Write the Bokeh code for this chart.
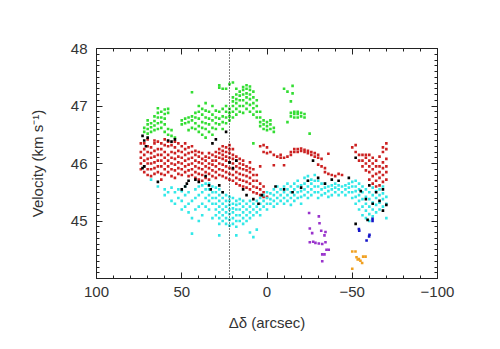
from bokeh.plotting import figure
from bokeh.models import Range1d, LinearAxis, SingleIntervalTicker, Span
from bokeh.embed import file_html
from bokeh.resources import INLINE

# ---------------- data ----------------
green_cols = [72, 70, 68, 66, 64, 62, 60, 58, 56, 54, 50, 48, 46, 44, 42, 40, 38, 36, 34, 32, 30, 28, 26, 24, 22,
              20, 18, 16, 14, 12, 10, 8, 6, 4, 2, 0, -2, -4, -10, -12, -14, -15, -16, -18, -20, -22, -25]
green_vals = [
    [46.55, 46.62], [46.52, 46.6, 46.68, 46.75], [46.55, 46.63, 46.7], [46.58, 46.66, 46.74, 46.82],
    [46.6, 46.7, 46.8, 46.88, 46.96], [46.62, 46.72, 46.8, 46.9], [46.55, 46.68, 46.78, 46.86, 46.94],
    [46.5, 46.6, 46.88, 46.95], [46.48, 46.58], [46.45], [46.68, 46.75], [46.7, 46.78],
    [46.58, 46.72, 46.8], [46.62, 46.75, 46.82, 47.24], [46.6, 46.7, 46.8, 46.88],
    [46.55, 46.65, 46.78, 46.9, 47.0], [46.5, 46.62, 46.72, 46.85, 46.95],
    [46.45, 46.6, 46.7, 46.8, 46.92, 47.05], [46.55, 46.68, 46.78, 46.9],
    [46.5, 46.62, 46.75, 46.85, 47.0], [46.6, 46.7, 46.8, 46.92], [46.68, 46.78, 46.9, 47.32, 47.36],
    [46.6, 46.72, 46.82, 46.95, 47.3], [46.7, 46.8, 46.9, 47.0, 47.3], [46.75, 46.82, 46.88, 46.95, 47.38],
    [46.8, 46.9, 47.0, 47.08, 47.15, 47.41], [46.85, 46.95, 47.05, 47.12, 47.2, 47.3],
    [46.9, 47.0, 47.1, 47.18, 47.25], [46.88, 47.0, 47.1, 47.2, 47.28, 47.33],
    [46.95, 47.05, 47.15, 47.22, 47.3, 47.36], [46.9, 47.02, 47.12, 47.2, 47.28, 47.34],
    [46.35, 46.85, 46.96, 47.05, 47.15, 47.25], [46.8, 46.9, 47.0, 47.1], [46.65, 46.72, 46.8, 46.9],
    [46.6, 46.68, 46.75], [46.58, 46.65, 46.72], [46.6, 46.68, 46.75], [46.55, 46.62],
    [47.3], [47.25, 46.72], [47.08, 46.82, 46.88], [47.35, 47.22], [46.8, 46.86, 46.9],
    [46.8, 46.86, 46.9], [46.82, 46.88], [46.8, 46.86], [46.52],
]

red_cols = [74, 72, 70, 68, 66, 64, 62, 60, 58, 56, 54, 52, 50, 48, 46, 44, 42, 40, 38, 36, 34, 32, 30, 28, 26,
            24, 22, 20, 18, 16, 14, 12, 10, 8, 6, 4, 2, 0, -2, -4, -6, -8, -10, -12, -14, -16, -18, -20, -22,
            -24, -26, -28, -30, -32, -34, -36, -38, -40, -42, -44, -50, -52, -54, -56, -58, -60, -62, -64,
            -66, -68, -70]
red_vals = [
    [45.9, 46.0, 46.1, 46.2, 46.35], [45.85, 45.95, 46.05, 46.15, 46.25, 46.35],
    [45.8, 45.9, 46.0, 46.08, 46.2, 46.3, 46.42], [45.78, 45.9, 46.0, 46.1, 46.18, 46.28],
    [45.82, 45.92, 46.02, 46.12, 46.22, 46.35, 46.4], [45.85, 45.95, 46.05, 46.15, 46.25, 46.38],
    [45.72, 45.82, 45.95, 46.05, 46.15, 46.25, 46.35], [45.8, 45.9, 46.0, 46.1, 46.2, 46.32, 46.42],
    [45.85, 45.95, 46.05, 46.15, 46.3, 46.38], [45.78, 45.9, 46.0, 46.1, 46.2, 46.32],
    [45.75, 45.88, 45.98, 46.08, 46.18, 46.28, 46.38], [45.82, 45.92, 46.02, 46.12, 46.22, 46.35],
    [45.8, 45.9, 46.0, 46.1, 46.2, 46.3], [45.85, 45.95, 46.05, 46.15, 46.25, 46.35],
    [45.78, 45.88, 45.98, 46.08, 46.18, 46.28], [45.8, 45.9, 46.0, 46.1, 46.2, 46.3],
    [45.75, 45.85, 45.95, 46.05, 46.15, 46.22], [45.72, 45.82, 45.92, 46.02, 46.12, 46.2],
    [45.7, 45.8, 45.9, 46.0, 46.08, 46.18], [45.75, 45.85, 45.95, 46.05, 46.12],
    [45.72, 45.82, 45.92, 46.0, 46.1, 46.18], [45.78, 45.88, 45.98, 46.05, 46.15],
    [45.75, 45.85, 45.95, 46.05, 46.12, 46.2], [45.8, 45.9, 46.0, 46.1, 46.18, 46.25],
    [45.78, 45.88, 45.98, 46.08, 46.15, 46.22, 46.3], [45.75, 45.85, 45.95, 46.05, 46.12, 46.2, 46.28],
    [45.72, 45.82, 45.92, 46.02, 46.1, 46.18, 46.25, 46.32], [45.7, 45.8, 45.9, 46.0, 46.08, 46.15, 46.25],
    [45.65, 45.75, 45.85, 45.95, 46.05, 46.12], [45.62, 45.72, 45.82, 45.92, 46.0, 46.08],
    [45.6, 45.7, 45.8, 45.9, 45.98, 46.05], [45.58, 45.68, 45.78, 45.88, 45.95],
    [45.55, 45.65, 45.75, 45.85, 45.92, 46.02], [45.5, 45.6, 45.7, 45.8, 45.9],
    [45.48, 45.58, 45.7, 45.8], [45.45, 45.55, 45.65, 45.95, 46.3], [45.42, 45.5, 45.6, 46.2, 46.32],
    [45.42, 46.18, 46.28], [46.2], [45.97, 46.15], [46.12], [46.1, 46.15], [45.97, 46.1], [46.12],
    [46.15, 46.2], [46.2, 46.25], [46.2, 46.25], [46.22, 46.26], [46.2, 46.24], [46.18, 46.22],
    [46.15, 46.2], [46.12, 46.18], [45.98, 46.1, 46.15], [45.95, 46.08], [45.85, 45.92],
    [45.82, 46.17], [45.8], [45.78], [45.82], [45.8], [46.28], [46.2, 46.32], [46.05, 46.15],
    [45.95, 46.05, 46.15], [45.88, 46.0, 46.1, 46.15], [45.72, 45.85, 45.95, 46.05, 46.15],
    [45.65, 45.78, 45.9, 46.0, 46.1], [45.6, 45.7, 45.82, 45.95, 46.05],
    [45.62, 45.75, 45.85, 45.95, 46.12], [45.68, 45.8, 45.92, 46.02, 46.2, 46.28],
    [45.72, 45.85, 45.95, 46.08, 46.25, 46.35],
]

cyan_cols = [68, 64, 60, 58, 56, 54, 52, 50, 48, 46, 44, 42, 40, 38, 36, 34, 32, 30, 28, 26, 24, 22, 20, 18,
             16, 14, 12, 10, 8, 6, 4, 2, 0, -2, -4, -6, -8, -10, -12, -14, -16, -18, -20, -22, -24, -26, -28,
             -30, -32, -34, -36, -38, -40, -42, -44, -46, -48, -50, -52, -54, -56, -58, -60, -62, -64, -66,
             -68, -70]
cyan_vals = [
    [45.72], [45.6], [45.45, 45.55], [45.5], [45.35, 45.58], [45.3, 45.5], [45.4, 45.55],
    [45.2, 45.35, 45.52], [45.25, 45.45, 45.6], [45.15, 45.3, 45.5], [44.78, 45.05, 45.35],
    [45.2, 45.4, 45.55], [45.0, 45.25, 45.45, 45.6], [45.1, 45.3, 45.5, 45.62],
    [45.25, 45.4, 45.55, 45.65], [45.2, 45.35, 45.45, 45.55, 45.65], [45.05, 45.3, 45.4, 45.5, 45.6],
    [45.1, 45.2, 45.3, 45.4, 45.5, 45.58], [44.75, 44.95, 45.05, 45.15, 45.25, 45.35, 45.45, 45.55],
    [45.0, 45.1, 45.2, 45.3, 45.4, 45.5], [44.95, 45.05, 45.15, 45.25, 45.35, 45.45],
    [44.92, 45.02, 45.12, 45.2, 45.28, 45.35, 45.42], [44.95, 45.05, 45.15, 45.22, 45.3, 45.4],
    [44.75, 44.9, 45.0, 45.1, 45.2, 45.28, 45.35], [45.0, 45.1, 45.2, 45.3, 45.38],
    [44.95, 45.05, 45.15, 45.25, 45.35], [45.0, 45.1, 45.2, 45.3], [44.8, 45.05, 45.15, 45.25, 45.35],
    [44.72, 45.1, 45.2, 45.3], [44.85, 45.15, 45.25, 45.35], [45.1, 45.2, 45.3, 45.4],
    [45.25, 45.35, 45.45], [45.2, 45.3, 45.4, 45.5], [45.3, 45.38, 45.48], [45.25, 45.35, 45.45, 45.55],
    [45.3, 45.4, 45.5, 45.6], [45.35, 45.45, 45.55], [45.3, 45.4, 45.5, 45.6], [45.35, 45.45, 45.55, 45.65],
    [45.28, 45.4, 45.5, 45.6], [45.35, 45.45, 45.55, 45.65], [45.4, 45.5, 45.6, 45.7],
    [45.3, 45.42, 45.52, 45.62], [45.45, 45.55, 45.65, 45.75], [45.4, 45.5, 45.6, 45.7, 45.78],
    [45.45, 45.55, 45.65, 45.72], [45.5, 45.6, 45.7, 45.8], [45.4, 45.5, 45.6, 45.7], [45.45, 45.55, 45.65],
    [45.48, 45.58, 45.65], [45.42, 45.52, 45.6], [45.45, 45.55, 45.62], [45.5, 45.58, 45.65],
    [45.45, 45.55, 45.62], [45.5, 45.6], [45.45, 45.55, 45.62], [45.5, 45.58, 45.65],
    [45.4, 45.5, 45.6, 45.68], [45.3, 45.42, 45.52, 45.6, 45.7], [45.2, 45.35, 45.45, 45.55, 45.65],
    [45.1, 45.25, 45.38, 45.5, 45.6], [45.05, 45.18, 45.3, 45.42, 45.55], [45.0, 45.12, 45.25, 45.38, 45.5],
    [45.08, 45.2, 45.32, 45.45, 45.58], [45.15, 45.28, 45.4, 45.52], [45.2, 45.32, 45.45, 45.55],
    [45.25, 45.38, 45.48, 45.6], [45.05, 45.3, 45.42],
]

black_x = [73, 72, 71, 70, 73, 72, 64, 58, 56, 54, 50, 48, 47, 46, 42, 40, 36, 34, 33, 32, 30, 28, 26, 24,
           22, 20, 18, 14, 12, 8, 5, 3, -5, -10, -15, -20, -24, -27, -30, -34, -38, -42, -48, -52, -55, -58,
           -60, -62, -64, -66, -68, -70, -68, -52, -59]
black_y = [46.48, 46.4, 46.3, 46.45, 45.92, 45.95, 45.68, 46.4, 46.38, 46.42, 45.55, 45.6, 45.65, 45.7, 45.72,
           45.68, 45.78, 45.62, 45.55, 46.35, 46.42, 45.62, 45.5, 46.55, 46.02, 45.92, 46.05, 45.55, 45.45,
           45.38, 45.3, 45.45, 45.6, 45.55, 45.5, 45.58, 45.7, 46.05, 45.75, 45.65, 45.72, 45.7, 45.75, 46.1,
           45.52, 45.38, 45.62, 45.3, 45.5, 45.35, 45.55, 45.28, 45.18, 44.95, 45.02]

purple_x = [-24.7, -30.4, -30.8, -25.1, -31.8, -34.3, -26.5, -33.7, -27.1, -25.1, -28.4, -30.4, -32.4, -34.3,
            -34.9, -36.2, -32.4, -33.7, -32.4]
purple_y = [45.14, 45.08, 44.96, 44.87, 44.83, 44.81, 44.79, 44.75, 44.64, 44.63, 44.62, 44.61, 44.60, 44.63,
            44.50, 44.50, 44.42, 44.42, 44.30]

orange_x = [-50.0, -51.9, -52.5, -53.9, -54.8, -56.4, -57.8, -55.8, -50.0, -53.2]
orange_y = [44.47, 44.47, 44.37, 44.34, 44.31, 44.38, 44.38, 44.27, 44.17, 44.33]

blue_x = [-53.9, -54.1, -58.4, -59.9, -60.1, -61.9, -61.9]
blue_y = [44.86, 44.83, 44.66, 44.73, 44.76, 45.04, 45.0]

marker_offset = 22  # dotted reference line, arcsec

x_tick_labels = {100: "100", 50: "50", 0: "0", -50: "\u221250", -100: "\u2212100"}
y_tick_labels = {44: "", 45: "45", 46: "46", 47: "47", 48: "48"}


def expand(cols, vals):
    xs, ys = [], []
    for c, v in zip(cols, vals):
        for y in v:
            xs.append(c)
            ys.append(y)
    return xs, ys


gx, gy = expand(green_cols, green_vals)
rx, ry = expand(red_cols, red_vals)
cx, cy = expand(cyan_cols, cyan_vals)

FONT = "Liberation Sans"
TXT = "#333333"

p = figure(width=492, height=341, x_range=Range1d(100, -100), y_range=Range1d(44, 48),
           output_backend="svg", toolbar_location=None,
           min_border_left=96, min_border_right=55, min_border_top=48, min_border_bottom=63,
           x_axis_location=None, y_axis_location=None)
p.xgrid.visible = False
p.ygrid.visible = False
p.outline_line_color = None
p.background_fill_color = "white"
p.border_fill_color = "white"


def style_axis(ax, labels, show_labels):
    ax.major_tick_in = 6
    ax.major_tick_out = 0
    ax.minor_tick_in = 3
    ax.minor_tick_out = 0
    ax.axis_line_color = "#222222"
    ax.major_tick_line_color = "#222222"
    ax.minor_tick_line_color = "#222222"
    ax.major_label_text_font = FONT
    ax.major_label_text_font_size = "15px"
    ax.major_label_text_color = TXT
    ax.axis_label_text_font = FONT
    ax.axis_label_text_font_size = "15px"
    ax.axis_label_text_font_style = "normal"
    ax.axis_label_text_color = TXT
    ax.major_label_overrides = labels
    if not show_labels:
        ax.major_label_text_alpha = 0
        ax.major_label_text_font_size = "1px"


xb = LinearAxis(ticker=SingleIntervalTicker(interval=50, num_minor_ticks=5), axis_label="\u0394\u03b4 (arcsec)")
style_axis(xb, x_tick_labels, True)
xb.major_label_standoff = 8
xb.axis_label_standoff = 14
p.add_layout(xb, "below")

xt = LinearAxis(ticker=SingleIntervalTicker(interval=50, num_minor_ticks=5))
style_axis(xt, x_tick_labels, False)
p.add_layout(xt, "above")

yl = LinearAxis(ticker=SingleIntervalTicker(interval=1, num_minor_ticks=10), axis_label="Velocity (km s\u207b\u00b9)")
style_axis(yl, y_tick_labels, True)
yl.major_label_standoff = 9
yl.axis_label_standoff = 22
p.add_layout(yl, "left")

yr = LinearAxis(ticker=SingleIntervalTicker(interval=1, num_minor_ticks=10))
style_axis(yr, y_tick_labels, False)
p.add_layout(yr, "right")

S = 2.6
p.scatter(gx, gy, marker="square", size=S, fill_color="#33dd33", line_color=None)
p.scatter(rx, ry, marker="square", size=S, fill_color="#cc2222", line_color=None)
p.scatter(cx, cy, marker="square", size=S, fill_color="#33e8e8", line_color=None)
p.scatter(black_x, black_y, marker="square", size=S, fill_color="black", line_color=None)
p.scatter(purple_x, purple_y, marker="square", size=S, fill_color="#9933cc", line_color=None)
p.scatter(orange_x, orange_y, marker="square", size=S, fill_color="#f0a020", line_color=None)
p.scatter(blue_x, blue_y, marker="square", size=S, fill_color="#1515c8", line_color=None)

p.add_layout(Span(location=marker_offset, dimension="height", line_color="black",
                  line_dash="1 2", line_width=1))

open("out.html", "w").write(file_html(p, INLINE))
